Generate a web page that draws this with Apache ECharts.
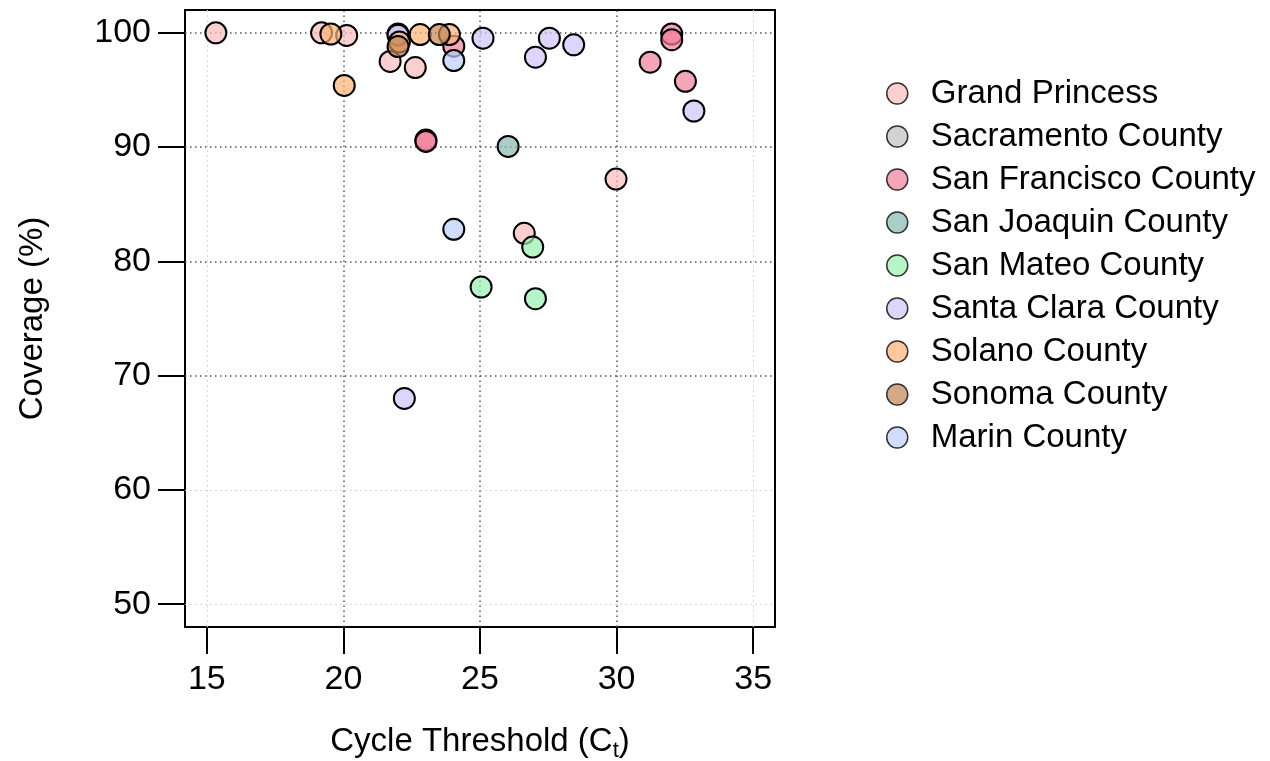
<!DOCTYPE html>
<html>
<head>
<meta charset="utf-8">
<script src="https://cdn.jsdelivr.net/npm/echarts@6/dist/echarts.min.js"></script>
<style>
html,body{margin:0;padding:0;background:#fff;}
#chart{width:1270px;height:761px;}
</style>
</head>
<body>
<div id="chart"></div>
<script>
// ---- data ----
const seriesNames = ['Grand Princess','Sacramento County','San Francisco County','San Joaquin County','San Mateo County','Santa Clara County','Solano County','Sonoma County','Marin County'];
const seriesColors = ['rgba(249,186,186,0.7)','rgba(192,192,192,0.7)','rgba(242,126,154,0.7)','rgba(132,185,176,0.7)','rgba(149,241,176,0.7)','rgba(206,195,248,0.7)','rgba(252,176,112,0.7)','rgba(195,131,82,0.7)','rgba(186,205,248,0.7)'];
const grandPrincess = [[15.33,100],[19.2,100],[20.12,99.77],[21.71,97.5],[22.63,96.96],[26.62,82.46],[29.98,87.2]];
const sacramento = [[22.0,99.9]];
const sanFrancisco = [[23.02,90.62],[23.02,90.5],[24.04,98.83],[32.02,99.9],[32.02,99.4],[31.23,97.43],[32.52,95.76]];
const sanJoaquin = [[26.03,90.06]];
const sanMateo = [[26.93,81.25],[25.04,77.75],[27.03,76.73]];
const santaClara = [[22.0,99.8],[25.11,99.53],[27.54,99.53],[28.43,98.95],[27.03,97.87],[32.83,93.16],[22.23,68.0]];
const solano = [[19.54,99.9],[20.03,95.4],[22.05,99.2],[22.81,99.85],[23.88,99.85]];
const sonoma = [[22.0,98.8],[23.51,99.85]];
const marin = [[24.04,97.57],[24.04,82.81]];
const seriesData = [grandPrincess,sacramento,sanFrancisco,sanJoaquin,sanMateo,santaClara,solano,sonoma,marin];

const xTicks = [15,20,25,30,35];
const yTicks = [50,60,70,80,90,100];
const xGridDark = [20,25,30];
const xGridLight = [15,35];
const yGridDark = [70,80,90,100];
const yGridLight = [50,60];

// ---- chart ----
const FONT = '"Liberation Sans", Arial, sans-serif';
const chart = echarts.init(document.getElementById('chart'), null, {renderer:'canvas'});

const gridSeries = {
  type:'scatter', name:'__grid', data:[], silent:true, z:1,
  markLine:{
    silent:true, symbol:'none', z:1, animation:false,
    label:{show:false},
    emphasis:{disabled:true},
    data:[
      ...xGridLight.map(v=>({xAxis:v, lineStyle:{color:'#d8d8d8', width:1, type:[2,3]}})),
      ...yGridLight.map(v=>({yAxis:v, lineStyle:{color:'#d8d8d8', width:1, type:[2,3]}})),
      ...xGridDark.map(v=>({xAxis:v, lineStyle:{color:'#555', width:1.5, type:[1.5,3.5]}})),
      ...yGridDark.map(v=>({yAxis:v, lineStyle:{color:'#555', width:1.5, type:[1.5,3.5]}}))
    ]
  }
};

const pointSeries = seriesNames.map((n,i)=>({
  type:'scatter', name:n, data:seriesData[i], symbol:'circle', symbolSize:21, z:3,
  itemStyle:{color:seriesColors[i], opacity:1, borderColor:'#000', borderWidth:2},
  emphasis:{disabled:true}
}));

chart.setOption({
  animation:false,
  backgroundColor:'#fff',
  grid:{left:185, top:10, width:590, height:617, show:true, borderColor:'#000', borderWidth:2, backgroundColor:'transparent', containLabel:false, outerBoundsMode:'none'},
  xAxis:{
    type:'value', min:14.2, max:35.8,
    axisLine:{show:false},
    axisTick:{show:true, inside:false, length:27, customValues:xTicks, lineStyle:{color:'#000', width:2}},
    axisLabel:{customValues:xTicks, fontSize:34, margin:36, color:'#000', fontFamily:FONT},
    splitLine:{show:false},
    name:'{a|Cycle Threshold (C}{s|t}{a|)}', nameLocation:'middle', nameGap:95,
    nameTextStyle:{color:'#000', fontFamily:FONT, fontSize:33,
      rich:{a:{fontSize:33, fontFamily:FONT, color:'#000', lineHeight:40},
            s:{fontSize:22, fontFamily:FONT, color:'#000', verticalAlign:'bottom', lineHeight:40, padding:[14,0,0,0]}}}
  },
  yAxis:{
    type:'value', min:48, max:102,
    axisLine:{show:false},
    axisTick:{show:true, inside:false, length:27, customValues:yTicks, lineStyle:{color:'#000', width:2}},
    axisLabel:{customValues:yTicks, fontSize:34, margin:34, color:'#000', fontFamily:FONT},
    splitLine:{show:false},
    name:'Coverage (%)', nameLocation:'middle', nameGap:136, nameRotate:90,
    nameTextStyle:{color:'#000', fontFamily:FONT, fontSize:33}
  },
  legend:{
    orient:'vertical', left:886, top:77, padding:0,
    itemWidth:21, itemHeight:21, itemGap:10, icon:'circle',
    data:seriesNames,
    itemStyle:{borderColor:'#333', borderWidth:1.5},
    textStyle:{fontSize:33, color:'#000', fontFamily:FONT, padding:[0,0,0,18]},
    selectedMode:false
  },
  series:[gridSeries, ...pointSeries]
});
</script>
</body>
</html>
